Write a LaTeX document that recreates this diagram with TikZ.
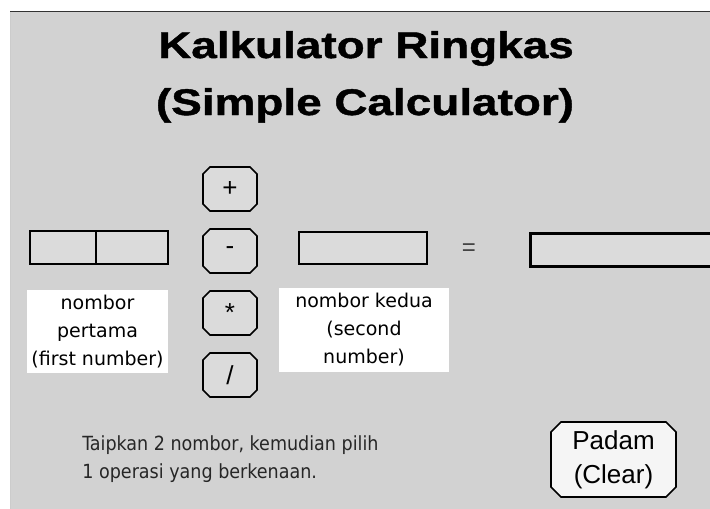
\documentclass[tikz,border=0pt]{standalone}
\usepackage{fontspec}
\setmainfont{Liberation Sans}
\newfontfamily\titlefont{Liberation Sans Bold}[FakeStretch=1.24, FakeBold=1.2]
\newfontfamily\labelfont{DejaVu Sans}
\newfontfamily\notefont{DejaVu Sans Condensed}
\usetikzlibrary{shapes.misc}
\definecolor{panelgray}{HTML}{D2D2D2}
\definecolor{fieldgray}{HTML}{DBDBDB}

\begin{document}
\begin{tikzpicture}[x=1pt, y=-1pt, thick,
    field/.style={rectangle, draw, line width=1.5pt, fill=fieldgray, inner sep=0pt},
    opbtn/.style={chamfered rectangle, chamfered rectangle xsep=3.5pt, chamfered rectangle ysep=3.5pt, draw, line width=1.6pt, fill=fieldgray, minimum width=54pt, minimum height=44pt, inner sep=0pt, font=\fontsize{26}{26}\selectfont},
    caption/.style={rectangle, fill=white, align=center, inner sep=0pt, font=\labelfont\fontsize{19}{28}\selectfont},
    heading/.style={anchor=base, inner sep=0pt, font=\titlefont\fontsize{37}{40}\selectfont}]

    \useasboundingbox (0,0) rectangle (710,509);
    \fill[white] (0,0) rectangle (710,509);
    \fill[panelgray] (10,11) rectangle (710,509);
    \draw[line width=1.5pt, black!80] (10,11.5) -- (710,11.5);
    \draw[line width=1pt, black!20] (10.5,12) -- (10.5,509);

    \node[heading] at (366, 58) (title1) {Kalkulator Ringkas};
    \node[heading] at (365, 115) (title2) {(Simple Calculator)};

    \node[field, minimum width=66pt, minimum height=33pt] at (63, 247.5) (num1a) {};
    \node[field, minimum width=72pt, minimum height=33pt] at (132, 247.5) (num1b) {};
    \node[field, minimum width=128pt, minimum height=32pt] at (363, 248) (num2) {};
    \node[font=\fontsize{24}{24}\selectfont, text=black!75] at (469, 250) (equals) {=};
    \node[field, line width=3pt, minimum width=190pt, minimum height=33pt] at (625, 249.5) (result) {};

    \node[opbtn] at (230, 189) (plus) {+};
    \node[opbtn] at (230, 251) (minus) {-};
    \node[opbtn] at (230, 313) (times) {*};
    \node[opbtn] at (230, 375) (divide) {/};

    \node[caption, minimum width=141pt, minimum height=83pt] at (97.5, 331.5) (label1) {nombor\\pertama\\(first number)};
    \node[caption, minimum width=170pt, minimum height=84pt] at (364, 330) (label2) {nombor kedua\\(second\\number)};

    \node[anchor=west, align=left, inner sep=0pt, text=black!85, font=\notefont\fontsize{19.5}{28}\selectfont] at (82, 459) (hint) {Taipkan 2 nombor, kemudian pilih\\1 operasi yang berkenaan.};

    \node[opbtn, minimum width=125pt, minimum height=75pt, fill=white!96!black, chamfered rectangle xsep=5pt, chamfered rectangle ysep=5pt, align=center, font=\fontsize{26}{34}\selectfont] at (613.5, 459.5) (clear) {Padam\\(Clear)};
\end{tikzpicture}
\end{document}
